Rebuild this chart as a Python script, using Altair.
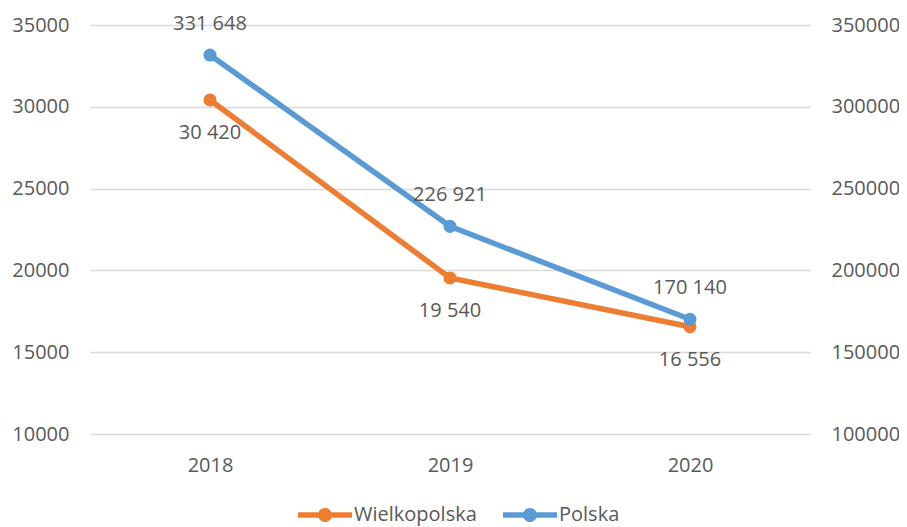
import altair as alt
import pandas as pd

years = ["2018", "2019", "2020"]
wielkopolska = [30420, 19540, 16556]
polska = [331648, 226921, 170140]
series = ["Wielkopolska", "Polska"]
colors = ["#ED7D31", "#5B9BD5"]

def fmt(v):
    return f"{v:,}".replace(",", " ")

dw = pd.DataFrame({"year": years, "value": wielkopolska, "series": series[0],
                   "label": [fmt(v) for v in wielkopolska]})
dp = pd.DataFrame({"year": years, "value": polska, "series": series[1],
                   "label": [fmt(v) for v in polska]})

FONT = "Open Sans"
TXT = "#595959"
FS = 20

legend_symbol = ("M-1,-0.1 L1,-0.1 L1,0.1 L-1,0.1 Z "
                 "M-0.26,0 A0.26,0.26 0 1,1 0.26,0 A0.26,0.26 0 1,1 -0.26,0 Z")

color = alt.Color("series:N", scale=alt.Scale(domain=series, range=colors),
                  sort=series,
                  legend=alt.Legend(title=None, orient="none", direction="horizontal",
                                    legendX=208, legendY=463,
                                    symbolType=legend_symbol,
                                    symbolSize=2916, symbolStrokeWidth=0,
                                    labelFont=FONT, labelFontSize=FS, labelColor=TXT,
                                    columnPadding=26, labelOffset=2))

x = alt.X("year:O", sort=years, title=None,
          scale=alt.Scale(paddingOuter=0.5, paddingInner=0),
          axis=alt.Axis(labelAngle=0, ticks=False, domain=False, grid=False,
                        labelPadding=21, labelFont=FONT, labelFontSize=FS, labelColor=TXT))

yl = alt.Y("value:Q", title=None,
           scale=alt.Scale(domain=[10000, 35000], nice=False, zero=False),
           axis=alt.Axis(values=[10000, 15000, 20000, 25000, 30000, 35000], format="d",
                         ticks=False, domain=False, grid=True, gridColor="#D9D9D9",
                         gridWidth=1.3, labelPadding=21, labelFont=FONT, labelFontSize=FS,
                         labelColor=TXT, orient="left"))
yr = alt.Y("value:Q", title=None,
           scale=alt.Scale(domain=[100000, 350000], nice=False, zero=False),
           axis=alt.Axis(values=[100000, 150000, 200000, 250000, 300000, 350000], format="d",
                         ticks=False, domain=False, grid=False, labelPadding=21,
                         labelFont=FONT, labelFontSize=FS, labelColor=TXT, orient="right"))

left = alt.Chart(dw).encode(x=x, y=yl, color=color)
left_layer = alt.layer(
    left.mark_line(strokeWidth=5.5),
    left.mark_point(filled=True, size=170, opacity=1),
    left.mark_text(dy=33, font=FONT, fontSize=FS, color=TXT).encode(text="label:N", color=alt.value(TXT)),
)
right = alt.Chart(dp).encode(x=x, y=yr, color=color)
right_layer = alt.layer(
    right.mark_line(strokeWidth=5.5),
    right.mark_point(filled=True, size=170, opacity=1),
    right.mark_text(dy=-31, font=FONT, fontSize=FS, color=TXT).encode(text="label:N", color=alt.value(TXT)),
)

chart = alt.layer(left_layer, right_layer).resolve_scale(y="independent").properties(
    width=720, height=409,
    autosize=alt.AutoSizeParams(type="none"),
    padding={"left": 82, "top": 17, "right": 89, "bottom": 93},
).configure_view(stroke=None)

chart.save("out.html", embed_options={"renderer": "svg", "actions": False})
